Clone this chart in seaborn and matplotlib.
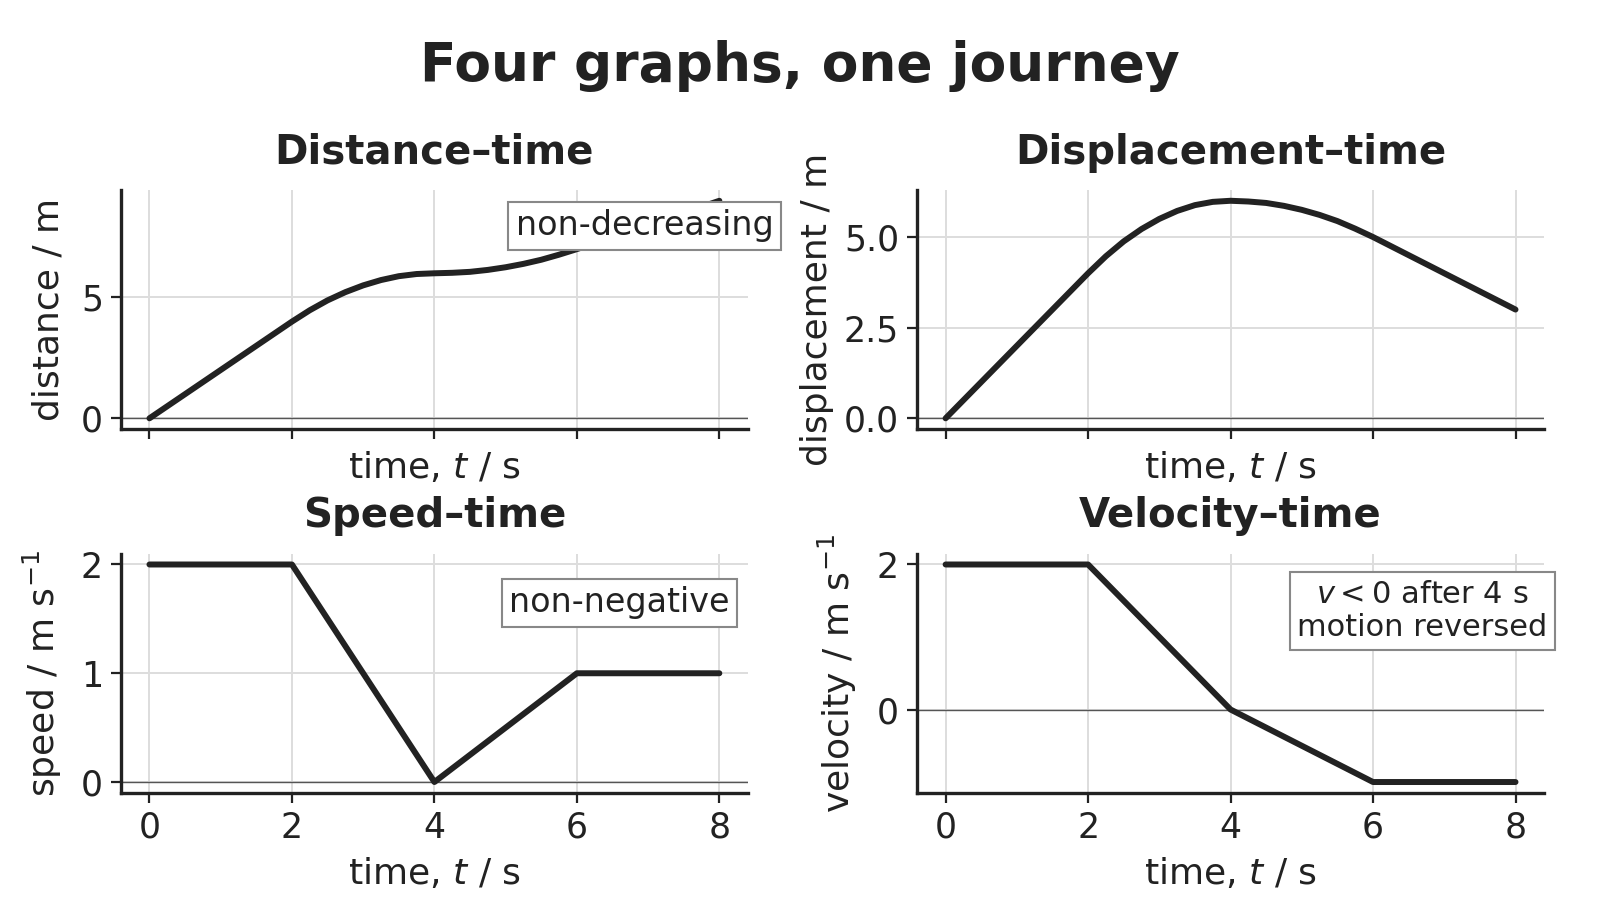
import matplotlib
matplotlib.use("Agg")
import matplotlib.pyplot as plt
from matplotlib.ticker import MaxNLocator
import seaborn as sns
import pandas as pd

# time samples, s (read every 0.25 s off the curves)
time = [0.0, 0.25, 0.5, 0.75, 1.0, 1.25, 1.5, 1.75, 2.0, 2.25, 2.5, 2.75,
        3.0, 3.25, 3.5, 3.75, 4.0, 4.25, 4.5, 4.75, 5.0, 5.25, 5.5, 5.75,
        6.0, 6.25, 6.5, 6.75, 7.0, 7.25, 7.5, 7.75, 8.0]

distance = [0.0, 0.5, 1.0, 1.5, 2.0, 2.5, 3.0, 3.5, 4.0, 4.47, 4.88, 5.22,
            5.5, 5.72, 5.88, 5.97, 6.0, 6.02, 6.06, 6.14, 6.25, 6.39, 6.56, 6.77,
            7.0, 7.25, 7.5, 7.75, 8.0, 8.25, 8.5, 8.75, 9.0]

displacement = [0.0, 0.5, 1.0, 1.5, 2.0, 2.5, 3.0, 3.5, 4.0, 4.47, 4.88, 5.22,
                5.5, 5.72, 5.88, 5.97, 6.0, 5.98, 5.94, 5.86, 5.75, 5.61, 5.44, 5.23,
                5.0, 4.75, 4.5, 4.25, 4.0, 3.75, 3.5, 3.25, 3.0]

# speed and velocity are piecewise linear: corner points only
vt_time = [0, 2, 4, 6, 8]
speed = [2, 2, 0, 1, 1]
velocity = [2, 2, 0, -1, -1]

ink = "#222222"

sns.set_theme(style="whitegrid", rc={
    "axes.edgecolor": ink,
    "axes.linewidth": 2.4,
    "grid.color": "#dddddd",
    "grid.linewidth": 1.4,
    "xtick.bottom": True,
    "xtick.major.size": 7,
    "xtick.major.width": 1.6,
    "ytick.left": True,
    "ytick.major.size": 7,
    "ytick.major.width": 1.6,
    "xtick.color": ink,
    "ytick.color": ink,
    "text.color": ink,
    "axes.labelcolor": ink,
})
plt.rcParams["font.family"] = ["DejaVu Sans"]

fig, axes = plt.subplots(2, 2, figsize=(16, 9), dpi=100)
fig.subplots_adjust(left=0.0756, right=0.965, top=0.789, bottom=0.119,
                    wspace=0.27, hspace=0.52)

panels = [
    (axes[0, 0], time, distance, "Distance–time", "distance / m", 11),
    (axes[0, 1], time, displacement, "Displacement–time", "displacement / m", 7),
    (axes[1, 0], vt_time, speed, "Speed–time", r"speed / m s$^{-1}$", 12),
    (axes[1, 1], vt_time, velocity, "Velocity–time", r"velocity / m s$^{-1}$", 13),
]

for ax, x, y, title, ylabel, ypad in panels:
    df = pd.DataFrame({"t": x, "y": y})
    sns.lineplot(data=df, x="t", y="y", ax=ax, color=ink, linewidth=4.3,
                 sort=False, estimator=None)
    ax.axhline(0, color="#555555", linewidth=1.0, zorder=1)
    ax.set_title(title, fontsize=29, fontweight="bold", pad=19)
    ax.set_ylabel(ylabel, fontsize=26, labelpad=ypad)
    ax.set_xlabel(r"time, $t$ / s", fontsize=26, labelpad=8)
    ax.set_xlim(-0.4, 8.4)
    ax.set_xticks([0, 2, 4, 6, 8])
    ax.yaxis.set_major_locator(MaxNLocator(nbins=3, steps=[1, 2, 2.5, 5, 10]))
    ax.tick_params(labelsize=25, pad=6)
    sns.despine(ax=ax)

# top row keeps its tick marks and axis label but not the tick numbers
for ax in axes[0]:
    ax.tick_params(labelbottom=False)

box = dict(boxstyle="square,pad=0.22", facecolor="white", edgecolor="#888888",
           linewidth=1.5)
axes[0, 0].text(0.835, 0.85, "non-decreasing", transform=axes[0, 0].transAxes,
                ha="center", va="center", fontsize=24, bbox=box, zorder=5)
axes[1, 0].text(0.795, 0.795, "non-negative", transform=axes[1, 0].transAxes,
                ha="center", va="center", fontsize=24, bbox=box, zorder=5)
axes[1, 1].text(0.806, 0.76, "$v < 0$ after 4 s\nmotion reversed",
                transform=axes[1, 1].transAxes, ha="center", va="center",
                fontsize=22, bbox=dict(box, boxstyle="square,pad=0.25"),
                zorder=5, linespacing=1.2)

fig.suptitle("Four graphs, one journey", fontsize=38.5, fontweight="bold",
             y=0.955)

fig.savefig("out.png", dpi=100)
